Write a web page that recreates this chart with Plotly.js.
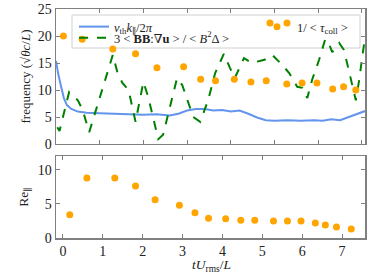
<!DOCTYPE html>
<html>
<head>
<meta charset="utf-8">
<script src="https://cdn.plot.ly/plotly-3.0.1.min.js"></script>
<style>html,body{margin:0;padding:0;background:#fff;}#chart{width:374px;height:280px;}</style>
</head>
<body>
<div id="chart"></div>
<script>
// Sample times (collision-rate / Reynolds points)
const times = [0.17, 0.60, 1.30, 1.82, 2.31, 2.92, 3.31, 3.65, 4.08, 4.46, 4.81, 5.28, 5.63, 5.97, 6.33, 6.58, 6.86, 7.23];
const collisionRate = [20.0, 19.4, 17.6, 16.7, 14.1, 14.3, 12.0, 11.7, 12.0, 11.5, 11.7, 11.1, 11.3, 11.3, 10.2, 10.6, 10.0, 9.8];
const reynoldsPar = [3.4, 8.8, 8.8, 7.6, 5.6, 4.8, 3.7, 2.9, 2.8, 2.6, 2.6, 2.5, 2.5, 2.5, 2.2, 1.9, 1.6, 1.3];

// Streaming frequency v_th k_par / 2pi
const streamT = [0.0, 0.05, 0.12, 0.18, 0.25, 0.35, 0.5, 0.7, 1.0, 1.5, 2.0, 2.3, 2.6, 2.8, 3.0, 3.2, 3.4, 3.6, 3.8, 4.0, 4.2, 4.4, 4.6, 4.8, 5.0, 5.3, 5.6, 5.9, 6.1, 6.3, 6.5, 6.7, 6.9, 7.07];
const streamF = [15.4, 13.0, 10.5, 8.5, 7.2, 6.5, 6.0, 5.8, 5.7, 5.6, 5.4, 5.5, 5.3, 5.6, 6.2, 6.5, 6.5, 6.2, 6.3, 6.0, 6.2, 5.6, 4.9, 4.4, 4.3, 4.4, 4.3, 4.4, 4.3, 4.6, 4.4, 5.0, 5.6, 6.1];

// Stretching rate 3<BB:grad u>/<B^2 Delta>
const stretchT = [0.03, 0.08, 0.30, 0.50, 0.61, 0.76, 1.30, 1.41, 1.52, 1.66, 1.82, 2.00, 2.11, 2.34, 2.45, 2.77, 2.89, 3.02, 3.14, 3.30, 3.48, 3.64, 3.84, 3.98, 4.09, 4.30, 4.48, 4.77, 4.95, 5.18, 5.34, 5.52, 5.64, 5.75, 5.86, 6.02, 6.16, 6.23, 6.32, 6.48, 6.59, 6.86, 6.93, 7.07];
const stretchF = [3.1, 2.4, 9.6, 8.1, 6.3, 2.2, 16.5, 13.1, 11.3, 10.0, 4.1, 11.5, 8.7, 0.9, 1.7, 12.2, 10.9, 7.8, 5.0, 4.1, 8.1, 13.1, 16.7, 14.1, 12.2, 15.9, 15.0, 15.6, 16.5, 14.6, 13.1, 10.6, 10.4, 8.5, 11.9, 15.6, 19.4, 18.9, 17.0, 18.7, 17.4, 8.1, 11.5, 19.8];

const topTicks = [0, 5, 10, 15, 20, 25];
const botTicks = [0, 5, 10];
const xTicks = [0, 1, 2, 3, 4, 5, 6, 7];

const FONT = 'Liberation Serif, DejaVu Serif, serif';
const SPINE = '#808080';
const ORANGE = '#FFA500';
const TXT = '#222';

const traces = [
  {x: streamT, y: streamF, xaxis: 'x', yaxis: 'y', mode: 'lines', type: 'scatter',
   line: {color: '#6495ED', width: 2}, name: '<i>v</i><sub>th</sub><i>k</i><sub>∥</sub>/2<i>π</i>', legend: 'legend'},
  {x: stretchT, y: stretchF, xaxis: 'x', yaxis: 'y', mode: 'lines', type: 'scatter',
   line: {color: '#008000', width: 2, dash: 'dash'}, name: '3 < <b>BB</b>:∇<b>u</b> > / < <i>B</i><sup>2</sup>Δ >', legend: 'legend3'},
  {x: times, y: collisionRate, xaxis: 'x', yaxis: 'y', mode: 'markers', type: 'scatter',
   marker: {color: ORANGE, size: 7}, name: '1/ < <i>τ</i><sub>coll</sub> >', legend: 'legend2'},
  {x: times, y: reynoldsPar, xaxis: 'x2', yaxis: 'y2', mode: 'markers', type: 'scatter',
   marker: {color: ORANGE, size: 7}, showlegend: false}
];

const axCommon = {
  showline: true, linecolor: SPINE, linewidth: 1.5, mirror: 'allticks',
  ticks: 'inside', ticklen: 4, tickcolor: SPINE, tickwidth: 1,
  showgrid: false, zeroline: false,
  tickfont: {family: FONT, size: 14, color: TXT}
};

const legFont = {family: FONT, size: 12.5, color: TXT};
const px2x = p => (p - 56) / 309;
const px2y = p => (238 - p) / 229;

const dot = cx => ({type: 'circle', xref: 'paper', yref: 'paper', xsizemode: 'pixel', ysizemode: 'pixel',
  xanchor: px2x(cx), yanchor: px2y(23), x0: -3.5, x1: 3.5, y0: -3.5, y1: 3.5,
  fillcolor: ORANGE, line: {width: 0}, layer: 'above'});

const layout = {
  width: 374, height: 280,
  margin: {l: 56, r: 9, t: 9, b: 42},
  paper_bgcolor: '#fff', plot_bgcolor: '#fff',
  font: {family: FONT, size: 13, color: TXT},
  xaxis: Object.assign({}, axCommon, {domain: [0, 1], anchor: 'y', range: [0, 7.07], tickvals: xTicks, showticklabels: false}),
  yaxis: Object.assign({}, axCommon, {domain: [0.4105, 1], anchor: 'x', range: [0, 25], tickvals: topTicks,
    title: {text: 'frequency (√<i>θc</i>/<i>L</i>)', font: {family: FONT, size: 13, color: TXT}, standoff: 4}}),
  xaxis2: Object.assign({}, axCommon, {domain: [0, 1], anchor: 'y2', range: [-0.175, 7.575], tickvals: xTicks}),
  yaxis2: Object.assign({}, axCommon, {domain: [0, 0.358], anchor: 'x2', range: [0, 12], tickvals: botTicks,
    title: {text: 'Re<sub>∥</sub>', font: {family: FONT, size: 13.5, color: TXT}, standoff: 6}}),
  legend: {x: px2x(74), y: px2y(27), xanchor: 'left', yanchor: 'middle', bgcolor: 'rgba(0,0,0,0)', borderwidth: 0, font: legFont},
  legend3: {x: px2x(74), y: px2y(38), xanchor: 'left', yanchor: 'middle', bgcolor: 'rgba(0,0,0,0)', borderwidth: 0, font: legFont},
  legend2: {x: px2x(257), y: px2y(27), xanchor: 'left', yanchor: 'middle', bgcolor: 'rgba(0,0,0,0)', borderwidth: 0, font: legFont},
  annotations: [
    {text: '<i>tU</i><sub>rms</sub>/<i>L</i>', xref: 'paper', yref: 'paper', x: px2x(211), y: px2y(265),
     xanchor: 'center', yanchor: 'middle', showarrow: false, font: {family: FONT, size: 13.5, color: TXT}}
  ],
  shapes: [
    {type: 'rect', xref: 'paper', yref: 'paper', x0: px2x(72), x1: px2x(360),
     y0: px2y(48), y1: px2y(15), fillcolor: 'rgba(255,255,255,0.8)',
     line: {color: '#d0d0d0', width: 1}, layer: 'below'},
    dot(270), dot(287)
  ],
  showlegend: true
};

Plotly.newPlot('chart', traces, layout, {displayModeBar: false, staticPlot: true});
</script>
</body>
</html>
